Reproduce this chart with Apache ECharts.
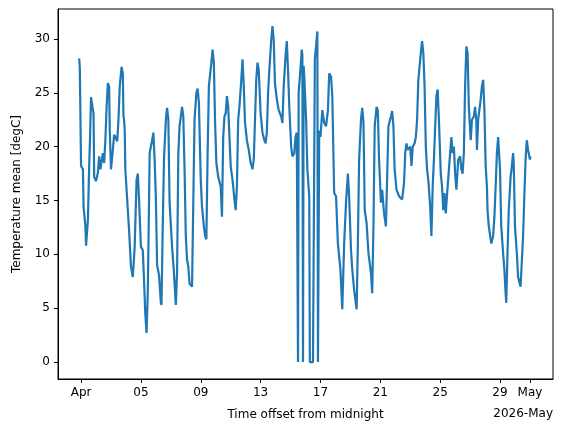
<!DOCTYPE html>
<html>
<head>
<meta charset="utf-8">
<script src="https://cdn.jsdelivr.net/npm/echarts@6/dist/echarts.min.js"></script>
<style>
html, body { margin: 0; padding: 0; background: #fff; }
#chart { width: 563px; height: 432px; }
</style>
</head>
<body>
<div id="chart"></div>
<script>
// hours from 2026-04-01 00:00
var hours = [-3,-2,0,3,4,7,8,11,13,14,16,19,20,21,24,27,29,31,35,37,39,41,43,45,46,48,51,53,55,58,
  60,62,65,67,68,69,70,71,75,77,80,83,86,89,91,93,96,99,101,103,105,107,109,110,114,116,118,120,122,125,
  128,129,131,133,136,138,140,142,146,149,152,154,156,158,162,164,166,168,170,172,174,178,180,182,185,187,189,192,194,197,
  199,201,203,205,209,211,213,215,217,220,224,226,228,230,232,234,236,240,243,246,248,250,252,254,257,259,261,263,266,269,
  272,275,277,279,281,283,285,288,291,294,296,298,300,302,305,307,309,311,314,317,321,323,325,328,330,332,334,337,339,342,
  344,346,347,348,349,351,354,355,356,357,358,361,363,366,367,368,370,372,373,374,375,379,380,381,382,384,387,390,393,396,
  398,401,403,406,409,412,416,419,422,425,428,430,433,435,438,442,444,446,449,451,453,455,458,461,465,467,469,471,474,476,
  478,481,483,486,489,491,493,497,499,501,503,506,510,515,518,520,522,524,528,530,532,535,537,539,541,545,547,549,551,553,
  555,557,560,562,564,566,568,570,572,574,577,579,581,583,585,588,592,594,596,598,600,602,605,608,610,612,614,616,618,620,
  622,625,627,630,632,634,635,637,641,643,645,647,649,651,652,654,658,661,663,665,667,669,672,674,677,679,681,682,684,686,
  689,691,693,694,696,699,701,705,707,709,711,713,715,717,720,721];
var temps = [28.2,27.3,18.2,17.9,14.4,12.6,10.8,13.2,18.2,20.0,24.6,23.4,23.1,17.2,16.8,17.6,19.1,17.9,19.4,18.5,20.6,23.7,25.9,25.6,21.6,17.9,19.7,21.1,20.9,20.5,
  22.5,25.6,27.4,26.8,22.8,22.5,21.6,17.9,14.1,12.3,8.9,7.9,10.7,16.9,17.5,15.1,10.7,10.4,7.6,4.5,2.7,6.4,14.8,19.4,20.6,21.3,18.8,15.2,9.0,8.1,
  5.5,5.3,12.6,18.8,22.5,23.6,22.5,14.8,10.7,8.3,5.3,8.3,19.4,21.9,23.7,22.8,17.9,11.7,9.5,8.9,7.3,7.0,14.8,22.5,25.0,25.4,24.1,16.9,14.4,12.6,
  11.7,11.4,19.4,25.6,27.8,29.0,27.8,22.2,18.5,17.2,16.3,13.5,20.9,22.8,23.1,24.7,23.7,18.2,16.9,15.1,14.1,16.3,22.5,23.7,26.2,28.1,25.6,22.2,20.6,19.7,
  18.5,17.9,18.8,22.5,26.2,27.8,27.1,23.1,21.3,20.6,20.3,21.3,25.0,27.1,29.9,31.2,29.9,25.9,24.4,23.4,22.8,22.2,25.6,28.4,29.8,27.1,23.7,20.0,19.1,19.4,
  20.9,21.3,21.3,0,25.0,26.5,29.0,28.5,0,27.5,26.5,22.5,17.9,15.4,0,0,0,0,0,0,28.1,30.7,0,0,21.5,20.9,23.4,22.2,21.9,23.4,
  26.8,26.5,24.7,15.7,15.4,11.0,8.6,4.9,11.0,14.8,17.5,15.4,10.4,8.6,6.7,4.9,11.0,18.8,22.5,23.6,22.2,14.1,12.9,10.1,8.3,6.4,12.6,21.9,23.7,23.4,
  18.8,14.8,16.0,13.8,12.6,17.2,21.9,22.8,23.3,21.9,17.9,16.0,15.4,15.1,16.6,19.4,20.3,19.7,20.0,18.2,20.0,20.3,20.9,22.5,26.2,28.7,29.8,28.7,25.6,20.0,
  17.9,16.9,14.4,11.7,16.3,18.8,21.9,24.7,25.3,22.5,17.5,16.3,14.1,15.7,13.8,16.3,19.4,20.9,19.4,20.0,17.5,16.0,18.8,19.1,17.9,17.5,19.4,25.6,29.3,28.7,
  23.7,20.6,22.5,22.8,23.7,22.5,19.7,22.5,24.4,25.6,26.2,23.4,18.2,16.3,14.1,12.6,11.0,11.7,13.5,16.3,19.4,20.9,17.9,12.6,10.1,8.6,6.4,5.5,10.1,14.1,
  17.2,18.2,19.4,18.5,12.6,10.1,7.9,7.0,7.0,11.7,15.4,18.8,20.6,19.7,18.8,19.1];

var tickHours = [0, 96, 192, 288, 384, 480, 576, 672, 720];
var tickLabels = ['Apr', '05', '09', '13', '17', '21', '25', '29', 'May'];
var yTicks = [0, 5, 10, 15, 20, 25, 30];

var points = [];
for (var i = 0; i < hours.length; i++) {
  points.push([hours[i], temps[i]]);
}

var chart = echarts.init(document.getElementById('chart'), null, {renderer: 'canvas'});
var font = 'DejaVu Sans';
var option = {
  animation: false,
  backgroundColor: '#fff',
  textStyle: {fontFamily: font},
  grid: {
    left: 58, right: 10, top: 9, bottom: 53,
    show: true, borderColor: '#000', borderWidth: 1
  },
  xAxis: {
    type: 'value',
    min: -37,
    max: 757,
    name: 'Time offset from midnight',
    nameLocation: 'middle',
    nameGap: 30,
    nameTextStyle: {color: '#000', fontSize: 12, fontFamily: font},
    axisLine: {show: true, onZero: false, lineStyle: {color: '#000', width: 1}},
    axisTick: {show: true, length: 4, customValues: tickHours, lineStyle: {color: '#000'}},
    axisLabel: {
      color: '#000', fontSize: 12, fontFamily: font, margin: 8,
      customValues: tickHours,
      formatter: function (v) {
        var k = tickHours.indexOf(v);
        return k >= 0 ? tickLabels[k] : '';
      }
    },
    splitLine: {show: false}
  },
  yAxis: {
    type: 'value',
    min: -1.57,
    max: 32.78,
    name: 'Temperature mean [degC]',
    nameLocation: 'middle',
    nameGap: 35,
    nameTextStyle: {color: '#000', fontSize: 12, fontFamily: font},
    axisLine: {show: true, onZero: false, lineStyle: {color: '#000', width: 1}},
    axisTick: {show: true, length: 4, customValues: yTicks, lineStyle: {color: '#000'}},
    axisLabel: {color: '#000', fontSize: 12, fontFamily: font, margin: 8, customValues: yTicks},
    splitLine: {show: false}
  },
  graphic: [{
    type: 'text',
    right: 10,
    top: 408,
    style: {text: '2026-May', fill: '#000', font: '12px "DejaVu Sans"'}
  }],
  series: [{
    type: 'line',
    data: points,
    showSymbol: false,
    symbol: 'none',
    lineStyle: {color: '#1f77b4', width: 2.2},
    itemStyle: {color: '#1f77b4'}
  }]
};
chart.setOption(option);
</script>
</body>
</html>
